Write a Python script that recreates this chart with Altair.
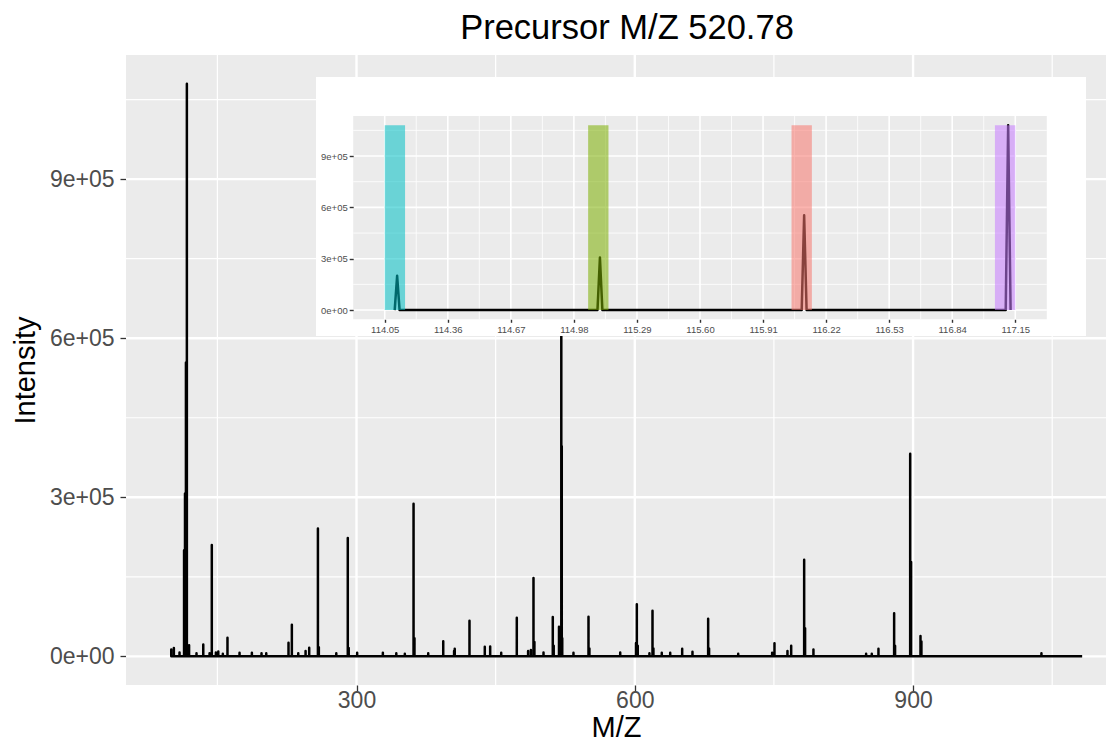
import altair as alt
import pandas as pd

# ---------------- data ----------------
peak_mz = [100.3, 103.1, 109.2, 114.111, 115.108, 116.112, 117.115, 119.5, 127.5, 134.8,
           141.6, 144.0, 148.4, 151.0, 155.9, 160.9, 173.9, 187.2, 197.6, 202.7,
           226.7, 230.3, 237.2, 245.1, 249.0, 258.4, 259.4, 278.2, 290.6, 291.6,
           300.7, 328.4, 342.9, 352.1, 361.5, 362.5, 377.3, 393.5, 405.2, 405.9,
           421.8, 438.3, 444.1, 456.0, 472.8, 485.0, 488.0, 490.8, 491.8, 501.6,
           511.6, 512.6, 518.3, 520.78, 521.28, 521.8, 533.9, 550.1, 551.1, 584.3,
           601.3, 602.2, 603.2, 615.8, 619.1, 620.1, 629.1, 638.2, 651.1, 662.2,
           679.1, 680.1, 711.5, 748.1, 750.6, 764.6, 768.6, 782.6, 783.6, 792.6,
           849.4, 855.5, 862.7, 879.6, 880.6, 896.9, 897.9, 908.0, 909.0, 1038.4]
peak_int = [13000, 15600, 7500, 200000, 307000, 554000, 1080000, 21000, 5700, 22600,
            5700, 210000, 7500, 9400, 5000, 35100, 6600, 6600, 5700, 5700,
            25700, 59600, 5700, 10000, 16300, 241000, 17000, 5700, 223000, 16000,
            6600, 6600, 5700, 5000, 288000, 34000, 5700, 28300, 10000, 14300,
            67200, 18100, 18700, 6600, 72800, 10000, 12000, 148000, 27000, 7500,
            74100, 20000, 55900, 607000, 396000, 34000, 7000, 74700, 15000, 7500,
            25000, 98100, 20000, 5700, 86100, 15000, 6600, 6600, 14300, 8500,
            71000, 15000, 5000, 6600, 24500, 10000, 20100, 182000, 53000, 13000,
            5000, 5000, 14300, 81100, 20000, 382000, 178000, 38300, 28000, 5700]
spectrum_start = 99.8
spectrum_end = 1082.3
peak_half_width = 0.012

reporter_label = ["114", "115", "116", "117"]
reporter_lo = [114.05, 115.05, 116.05, 117.05]
reporter_hi = [114.15, 115.15, 116.15, 117.15]
reporter_color = ["#00BFC4", "#7CAE00", "#F8766D", "#C77CFF"]

main_x_major = [300, 600, 900]
main_x_minor = [150, 450, 750, 1050]
y_major = [0, 300000, 600000, 900000]
y_major_labels = ["0e+00", "3e+05", "6e+05", "9e+05"]
y_minor = [150000, 450000, 750000, 1050000]

inset_x_major = [114.05, 114.36, 114.67, 114.98, 115.29, 115.60, 115.91, 116.22, 116.53, 116.84, 117.15]
inset_x_minor = [114.205, 114.515, 114.825, 115.135, 115.445, 115.755, 116.065, 116.375, 116.685, 116.995]

# ---------------- tables ----------------
pts = [(spectrum_start, 0.0)]
for m, v in sorted(zip(peak_mz, peak_int)):
    pts += [(m - peak_half_width, 0.0), (m, float(v)), (m + peak_half_width, 0.0)]
pts.append((spectrum_end, 0.0))
spec = pd.DataFrame(pts, columns=["mz", "intensity"])
inset_spec = spec[(spec.mz >= min(reporter_lo)) & (spec.mz <= max(reporter_hi))]

ymax = max(peak_int)
reporters = pd.DataFrame({"label": reporter_label, "lo": reporter_lo, "hi": reporter_hi,
                          "y0": 0.0, "y1": float(ymax)})

FONT = "Liberation Sans"
W, H = 980, 630
Y_DOM = [-54000, 1134000]

def label_expr(values, labels):
    expr = "''"
    for v, l in zip(reversed(values), reversed(labels)):
        expr = f"datum.value == {v} ? '{l}' : ({expr})"
    return expr

YLAB = label_expr(y_major, y_major_labels)

# ---------------- main panel ----------------
X_DOM = [51.5, 1108.0]

def xs_main():
    return alt.Scale(domain=X_DOM, nice=False, zero=False)

def ys_main():
    return alt.Scale(domain=Y_DOM, nice=False, zero=False)

def vrules(vals, width):
    return alt.Chart(pd.DataFrame({"v": vals})).mark_rule(color="white", strokeWidth=width).encode(
        x=alt.X("v:Q", scale=xs_main(), axis=None))

def hrules(vals, width):
    return alt.Chart(pd.DataFrame({"v": vals})).mark_rule(color="white", strokeWidth=width).encode(
        y=alt.Y("v:Q", scale=ys_main(), axis=None))

main_line = alt.Chart(spec).mark_line(color="black", strokeWidth=2.5, strokeJoin="round").encode(
    x=alt.X("mz:Q", scale=xs_main(),
            axis=alt.Axis(values=main_x_major, title="M/Z", format="d", orient="bottom",
                          labelFontSize=23, titleFontSize=29, labelPadding=-2, titlePadding=1,
                          tickSize=6)),
    y=alt.Y("intensity:Q", scale=ys_main(),
            axis=alt.Axis(values=y_major, title="Intensity", labelExpr=YLAB, orient="left",
                          labelFontSize=23, titleFontSize=29, labelPadding=6, titlePadding=9,
                          tickSize=6)),
)

# ---------------- inset ----------------
IX_DOM = [113.895, 117.305]
IX_RANGE = [227.2, 920.8]
IY_RANGE = [264.3, 61.0]

def xs_in():
    return alt.Scale(domain=IX_DOM, range=IX_RANGE, nice=False, zero=False)

def ys_in():
    return alt.Scale(domain=Y_DOM, range=IY_RANGE, nice=False, zero=False)

box = alt.Chart(pd.DataFrame({"a": [0]})).mark_rect(color="white").encode(
    x=alt.value(190), x2=alt.value(960), y=alt.value(22), y2=alt.value(281))

panel = alt.Chart(pd.DataFrame({"x0": [IX_DOM[0]], "x1": [IX_DOM[1]],
                                "y0": [Y_DOM[0]], "y1": [Y_DOM[1]]})).mark_rect(color="#EBEBEB").encode(
    x=alt.X("x0:Q", scale=xs_in(), axis=None), x2="x1:Q",
    y=alt.Y("y0:Q", scale=ys_in(), axis=None), y2="y1:Q")

def ivrules(vals, width):
    df = pd.DataFrame({"v": vals, "y0": Y_DOM[0], "y1": Y_DOM[1]})
    return alt.Chart(df).mark_rule(color="white", strokeWidth=width).encode(
        x=alt.X("v:Q", scale=xs_in(), axis=None),
        y=alt.Y("y0:Q", scale=ys_in(), axis=None), y2="y1:Q")

def ihrules(vals, width):
    df = pd.DataFrame({"v": vals, "x0": IX_DOM[0], "x1": IX_DOM[1]})
    return alt.Chart(df).mark_rule(color="white", strokeWidth=width).encode(
        y=alt.Y("v:Q", scale=ys_in(), axis=None),
        x=alt.X("x0:Q", scale=xs_in(), axis=None), x2="x1:Q")

inset_line = alt.Chart(inset_spec).mark_line(color="black", strokeWidth=2.5, strokeJoin="round").encode(
    x=alt.X("mz:Q", scale=xs_in(),
            axis=alt.Axis(values=inset_x_major, format=".2f", title=None, orient="bottom",
                          offset=IY_RANGE[0] - H, labelFontSize=9.5, tickSize=3, tickWidth=1.4,
                          labelPadding=2, zindex=2)),
    y=alt.Y("intensity:Q", scale=ys_in(),
            axis=alt.Axis(values=y_major, labelExpr=YLAB, title=None, orient="left",
                          offset=-IX_RANGE[0], labelFontSize=9.5, tickSize=4, tickWidth=1.4,
                          labelPadding=2, zindex=2)),
)

rects = alt.Chart(reporters).mark_rect(opacity=0.55).encode(
    x=alt.X("lo:Q", scale=xs_in(), axis=None), x2="hi:Q",
    y=alt.Y("y0:Q", scale=ys_in(), axis=None), y2="y1:Q",
    color=alt.Color("label:N", scale=alt.Scale(domain=reporter_label, range=reporter_color), legend=None),
)

layers = [
    vrules(main_x_minor, 1.2), hrules(y_minor, 1.2),
    vrules(main_x_major, 2.4), hrules(y_major, 2.4),
    main_line,
    box, panel,
    ivrules(inset_x_minor, 0.8), ihrules(y_minor, 0.8),
    ivrules(inset_x_major, 1.6), ihrules(y_major, 1.6),
    inset_line, rects,
]

chart = alt.layer(*layers).resolve_scale(x="independent", y="independent").properties(
    width=W, height=H,
    autosize=alt.AutoSizeParams(type="none"),
    padding={"left": 118, "top": 47, "right": 0, "bottom": 57},
    title=alt.TitleParams(text="Precursor M/Z 520.78", font=FONT, fontSize=34.5, fontWeight="normal",
                          color="black", anchor="middle", frame="group", dx=11, offset=7),
    background="white",
).configure_view(fill="#EBEBEB", stroke=None).configure_axis(
    labelFont=FONT, titleFont=FONT, labelColor="#4D4D4D", titleColor="black",
    titleFontWeight="normal", tickColor="#333333", tickWidth=1.3, domain=False, grid=False,
)

chart.save("out.html", embed_options={"renderer": "svg", "actions": False})
